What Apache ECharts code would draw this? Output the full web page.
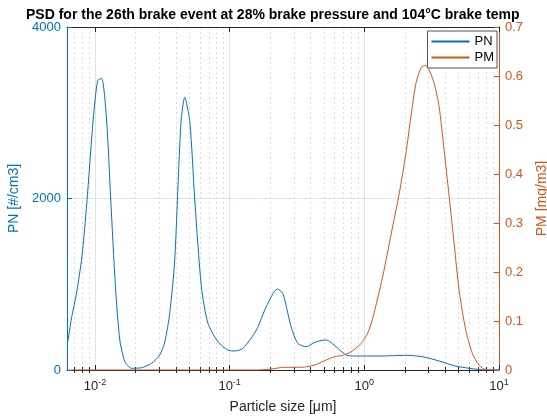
<!DOCTYPE html>
<html>
<head>
<meta charset="utf-8">
<script src="https://cdn.jsdelivr.net/npm/echarts@6/dist/echarts.min.js"></script>
<style>
  html, body { margin: 0; padding: 0; background: #ffffff; }
  #chart { width: 547px; height: 418px; }
</style>
</head>
<body>
<div id="chart"></div>
<script>
// Particle number concentration (PN, #/cm3) against particle size (um)
const pnSize = [0.0063, 0.0067, 0.0073, 0.0080, 0.0087, 0.0097, 0.01047, 0.0112, 0.0122, 0.0131,
  0.0142, 0.0153, 0.0167, 0.0187, 0.0222, 0.0263, 0.0303, 0.0330, 0.0359, 0.0391,
  0.0434, 0.0464, 0.0506, 0.0551, 0.0617, 0.0690, 0.0819, 0.0971, 0.109, 0.1255,
  0.158, 0.187, 0.226, 0.248, 0.286, 0.321, 0.370, 0.439, 0.520, 0.617,
  0.731, 0.868, 1.29, 2.04, 2.70, 3.59, 4.78, 6.0, 6.9, 7.97, 10];
const pnValue = [340, 606, 898, 1321, 1947, 2915, 3374, 3400, 2915, 1982,
  971, 350, 97, 20, 27, 78, 175, 330, 661, 1283,
  2857, 3180, 2896, 1982, 971, 545, 330, 233, 222, 253,
  466, 738, 944, 894, 505, 311, 272, 330, 350, 272,
  175, 163, 163, 171, 155, 105, 45, 20, 8, 0, 0];

// Particle mass concentration (PM, mg/m3) against particle size (um)
const pmSize = [0.0063, 0.158, 0.2035, 0.2555, 0.340, 0.426, 0.5055, 0.600, 0.690, 0.797,
  0.945, 1.058, 1.152, 1.367, 1.621, 1.816, 2.036, 2.218, 2.416, 2.633,
  2.832, 3.03, 3.30, 3.593, 3.914, 4.266, 4.64, 5.054, 5.66, 6.34,
  7.11, 7.97, 10];
const pmValue = [0, 0, 0.002, 0.0055, 0.0055, 0.010, 0.019, 0.027, 0.030, 0.037,
  0.054, 0.075, 0.105, 0.19, 0.292, 0.36, 0.442, 0.517, 0.585, 0.616,
  0.622, 0.612, 0.585, 0.537, 0.449, 0.354, 0.259, 0.163, 0.082, 0.034,
  0.010, 0.001, 0];

// Axis ticks
const xMajorTicks = [0.01, 0.1, 1, 10];
const xTickExponents = ['-2', '-1', '0', '1'];
const pnTicks = [0, 2000, 4000];
const pmTicks = [0, 0.1, 0.2, 0.3, 0.4, 0.5, 0.6, 0.7];

const X_MIN = 0.0062;
const X_MAX = 10;

const BLUE = '#0072BD';
const ORANGE = '#D95319';
const INK = '#262626';
const FONT = 'Liberation Sans, Arial, Helvetica, sans-serif';

// Minor log ticks: 2..9 times each decade inside the range
const xMinorTicks = [];
for (let e = -3; e < 1; e++) {
  for (let k = 2; k < 10; k++) {
    const v = parseFloat((k * Math.pow(10, e)).toPrecision(6));
    if (v > X_MIN && v < X_MAX) xMinorTicks.push(v);
  }
}

const pnData = pnSize.map((s, i) => [s, pnValue[i]]);
const pmData = pmSize.map((s, i) => [s, pmValue[i]]);

function logAxis(position, opts) {
  return Object.assign({
    type: 'log',
    logBase: 10,
    min: X_MIN,
    max: X_MAX,
    position: position,
    axisLine: { show: false },
    axisLabel: { show: false },
    splitLine: { show: false },
    axisTick: { show: false }
  }, opts);
}

const chart = echarts.init(document.getElementById('chart'), null, { renderer: 'canvas' });

chart.setOption({
  animation: false,
  backgroundColor: '#ffffff',
  textStyle: { fontFamily: FONT },
  title: {
    text: 'PSD for the 26th brake event at 28% brake pressure and 104°C brake temp',
    left: 21,
    top: 3,
    textStyle: { fontFamily: FONT, fontSize: 14, fontWeight: 'bold', color: '#000000' }
  },
  legend: {
    data: ['PN', 'PM'],
    orient: 'vertical',
    right: 50,
    top: 31,
    itemWidth: 38,
    itemHeight: 13,
    itemGap: 3,
    itemTextGap: 4,
    padding: [4, 3, 4, 3],
    backgroundColor: '#ffffff',
    borderColor: INK,
    borderWidth: 0.8,
    borderRadius: 0,
    // hide the marker dot so each key is just the series line
    itemStyle: { opacity: 0 },
    textStyle: { fontFamily: FONT, fontSize: 13, color: '#000000' }
  },
  grid: { left: 67, right: 48, top: 27, bottom: 48, containLabel: false, outerBoundsMode: 'none' },
  xAxis: [
    logAxis('bottom', {
      axisLine: { show: true, onZero: false, lineStyle: { color: INK, width: 1 } },
      axisTick: { show: true, inside: true, length: 5, customValues: xMajorTicks, lineStyle: { color: INK } },
      axisLabel: {
        show: true,
        customValues: xMajorTicks,
        margin: 8,
        color: INK,
        fontSize: 13,
        fontFamily: FONT,
        formatter: function (v) {
          const idx = xMajorTicks.findIndex(t => Math.abs(t - v) / t < 1e-6);
          return idx < 0 ? '' : '10{s|' + xTickExponents[idx] + '}';
        },
        rich: {
          s: { fontSize: 9, fontFamily: FONT, color: INK, verticalAlign: 'top', padding: [0, 0, 8, 0] }
        }
      },
      splitLine: { show: true, lineStyle: { color: '#e2e2e2', width: 1 } },
      name: 'Particle size [μm]',
      nameLocation: 'middle',
      nameGap: 30,
      nameTextStyle: { fontFamily: FONT, fontSize: 14, color: INK }
    }),
    logAxis('bottom', {
      axisTick: { show: true, inside: true, length: 3, customValues: xMinorTicks, lineStyle: { color: INK } },
      splitLine: { show: true, lineStyle: { color: '#dcdcdc', width: 1, type: [2, 3] } }
    }),
    logAxis('top', {
      axisLine: { show: true, onZero: false, lineStyle: { color: INK, width: 1 } },
      axisTick: { show: true, inside: true, length: 5, customValues: xMajorTicks, lineStyle: { color: INK } }
    }),
    logAxis('top', {
      axisTick: { show: true, inside: true, length: 3, customValues: xMinorTicks, lineStyle: { color: INK } }
    })
  ],
  yAxis: [
    {
      type: 'value',
      position: 'left',
      min: pnTicks[0],
      max: pnTicks[pnTicks.length - 1],
      interval: pnTicks[1] - pnTicks[0],
      axisLine: { show: true, onZero: false, lineStyle: { color: BLUE, width: 1 } },
      axisTick: { show: true, inside: true, length: 5, lineStyle: { color: BLUE } },
      axisLabel: {
        color: BLUE, fontSize: 13, fontFamily: FONT, margin: 6,
        formatter: function (v) { return String(v); }
      },
      splitLine: { show: true, lineStyle: { color: '#dde6ee', width: 1 } },
      name: 'PN [#/cm3]',
      nameLocation: 'middle',
      nameRotate: 90,
      nameGap: 42,
      nameTextStyle: { fontFamily: FONT, fontSize: 14, color: BLUE }
    },
    {
      type: 'value',
      position: 'right',
      min: pmTicks[0],
      max: pmTicks[pmTicks.length - 1],
      interval: pmTicks[1] - pmTicks[0],
      axisLine: { show: true, onZero: false, lineStyle: { color: ORANGE, width: 1 } },
      axisTick: { show: true, inside: true, length: 5, lineStyle: { color: ORANGE } },
      axisLabel: {
        color: ORANGE, fontSize: 13, fontFamily: FONT, margin: 6,
        formatter: function (v) { return String(parseFloat(v.toFixed(2))); }
      },
      splitLine: { show: false },
      name: 'PM [mg/m3]',
      nameLocation: 'middle',
      nameRotate: 90,
      nameGap: 36,
      nameTextStyle: { fontFamily: FONT, fontSize: 14, color: ORANGE }
    }
  ],
  series: [
    {
      name: 'PN',
      type: 'line',
      xAxisIndex: 0,
      yAxisIndex: 0,
      data: pnData,
      symbol: 'none',
      smooth: 0.25,
      lineStyle: { color: BLUE, width: 1 },
      itemStyle: { color: BLUE },
      z: 3
    },
    {
      name: 'PM',
      type: 'line',
      xAxisIndex: 0,
      yAxisIndex: 1,
      data: pmData,
      symbol: 'none',
      smooth: 0.25,
      lineStyle: { color: ORANGE, width: 1 },
      itemStyle: { color: ORANGE },
      z: 4
    }
  ]
});
</script>
</body>
</html>
